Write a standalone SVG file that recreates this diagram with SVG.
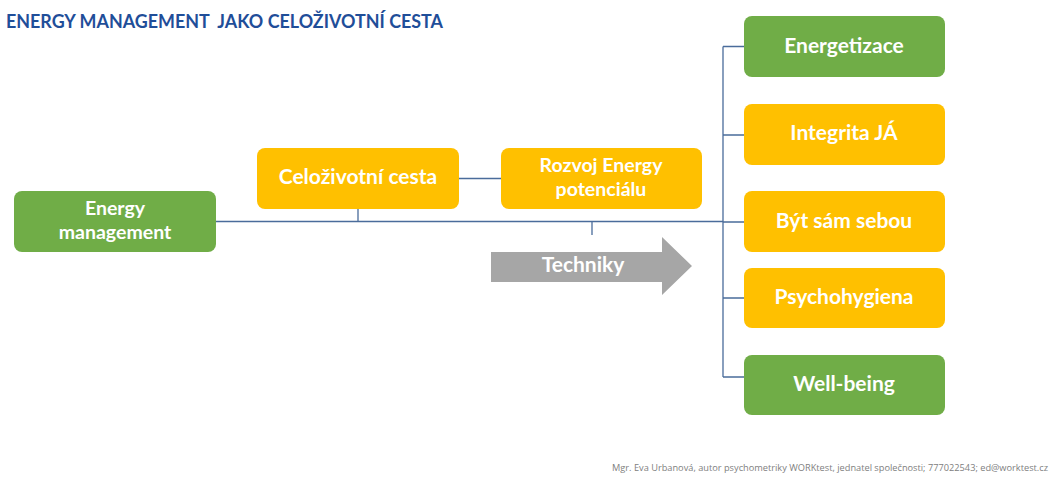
<svg xmlns="http://www.w3.org/2000/svg" width="1060" height="482" viewBox="0 0 1060 482">
<style>
.g{fill:#70AD47}
.y{fill:#FFC000}
.t{font-family:Lato,"Liberation Sans",sans-serif;font-weight:bold;font-size:21px;fill:#FFFFFF;text-anchor:middle}
.t2{font-size:19.5px}
.c{stroke:#4A6C9B;stroke-width:1.3;fill:none}
</style>
<rect width="1060" height="482" fill="#FFFFFF"/>
<text x="6" y="28" font-family="Lato,'Liberation Sans',sans-serif" font-weight="bold" font-size="19" fill="#1F4E99" textLength="437" lengthAdjust="spacingAndGlyphs" style="white-space:pre" xml:space="preserve">ENERGY MANAGEMENT  JAKO CELOŽIVOTNÍ CESTA</text>
<g id="connectors">
<path class="c" d="M216 221.5H723M358 209V221.5M459 178.5H501M592 221.5V235M723 46.5V377M723 46.5H744M723 135H744M723 222H744M723 298H744M723 377H744"/>
</g>
<g id="n-energy-management"><rect class="g" x="14" y="191" width="202" height="61" rx="8"/><text class="t t2" x="115" y="214.5">Energy</text><text class="t t2" x="115" y="238.5">management</text></g>
<g id="n-celozivotni"><rect class="y" x="257" y="148" width="202" height="61" rx="8"/><text class="t" x="358" y="184">Celoživotní cesta</text></g>
<g id="n-rozvoj"><rect class="y" x="501" y="148" width="201" height="61" rx="8"/><text class="t t2" x="601" y="171.5">Rozvoj Energy</text><text class="t t2" x="601" y="195.5">potenciálu</text></g>
<g id="n-techniky"><polygon fill="#A6A6A6" points="491,252 662,252 662,237 692,266 662,295 662,282 491,282"/><text class="t" x="583" y="272">Techniky</text></g>
<g id="n-energetizace"><rect class="g" x="744" y="16" width="201" height="61" rx="8"/><text class="t" x="844" y="53">Energetizace</text></g>
<g id="n-integrita"><rect class="y" x="744" y="104" width="201" height="61" rx="8"/><text class="t" x="844" y="140">Integrita JÁ</text></g>
<g id="n-byt"><rect class="y" x="744" y="191" width="201" height="61" rx="8"/><text class="t" x="844" y="228">Být sám sebou</text></g>
<g id="n-psycho"><rect class="y" x="744" y="268" width="201" height="60" rx="8"/><text class="t" x="844" y="304">Psychohygiena</text></g>
<g id="n-wellbeing"><rect class="g" x="744" y="355" width="201" height="60" rx="8"/><text class="t" x="844" y="391">Well-being</text></g>
<text x="612" y="471" font-family="'Open Sans',sans-serif" font-size="9.5" fill="#808080" textLength="436" lengthAdjust="spacingAndGlyphs">Mgr. Eva Urbanová, autor psychometriky WORKtest, jednatel společnosti; 777022543; ed@worktest.cz</text>
</svg>
